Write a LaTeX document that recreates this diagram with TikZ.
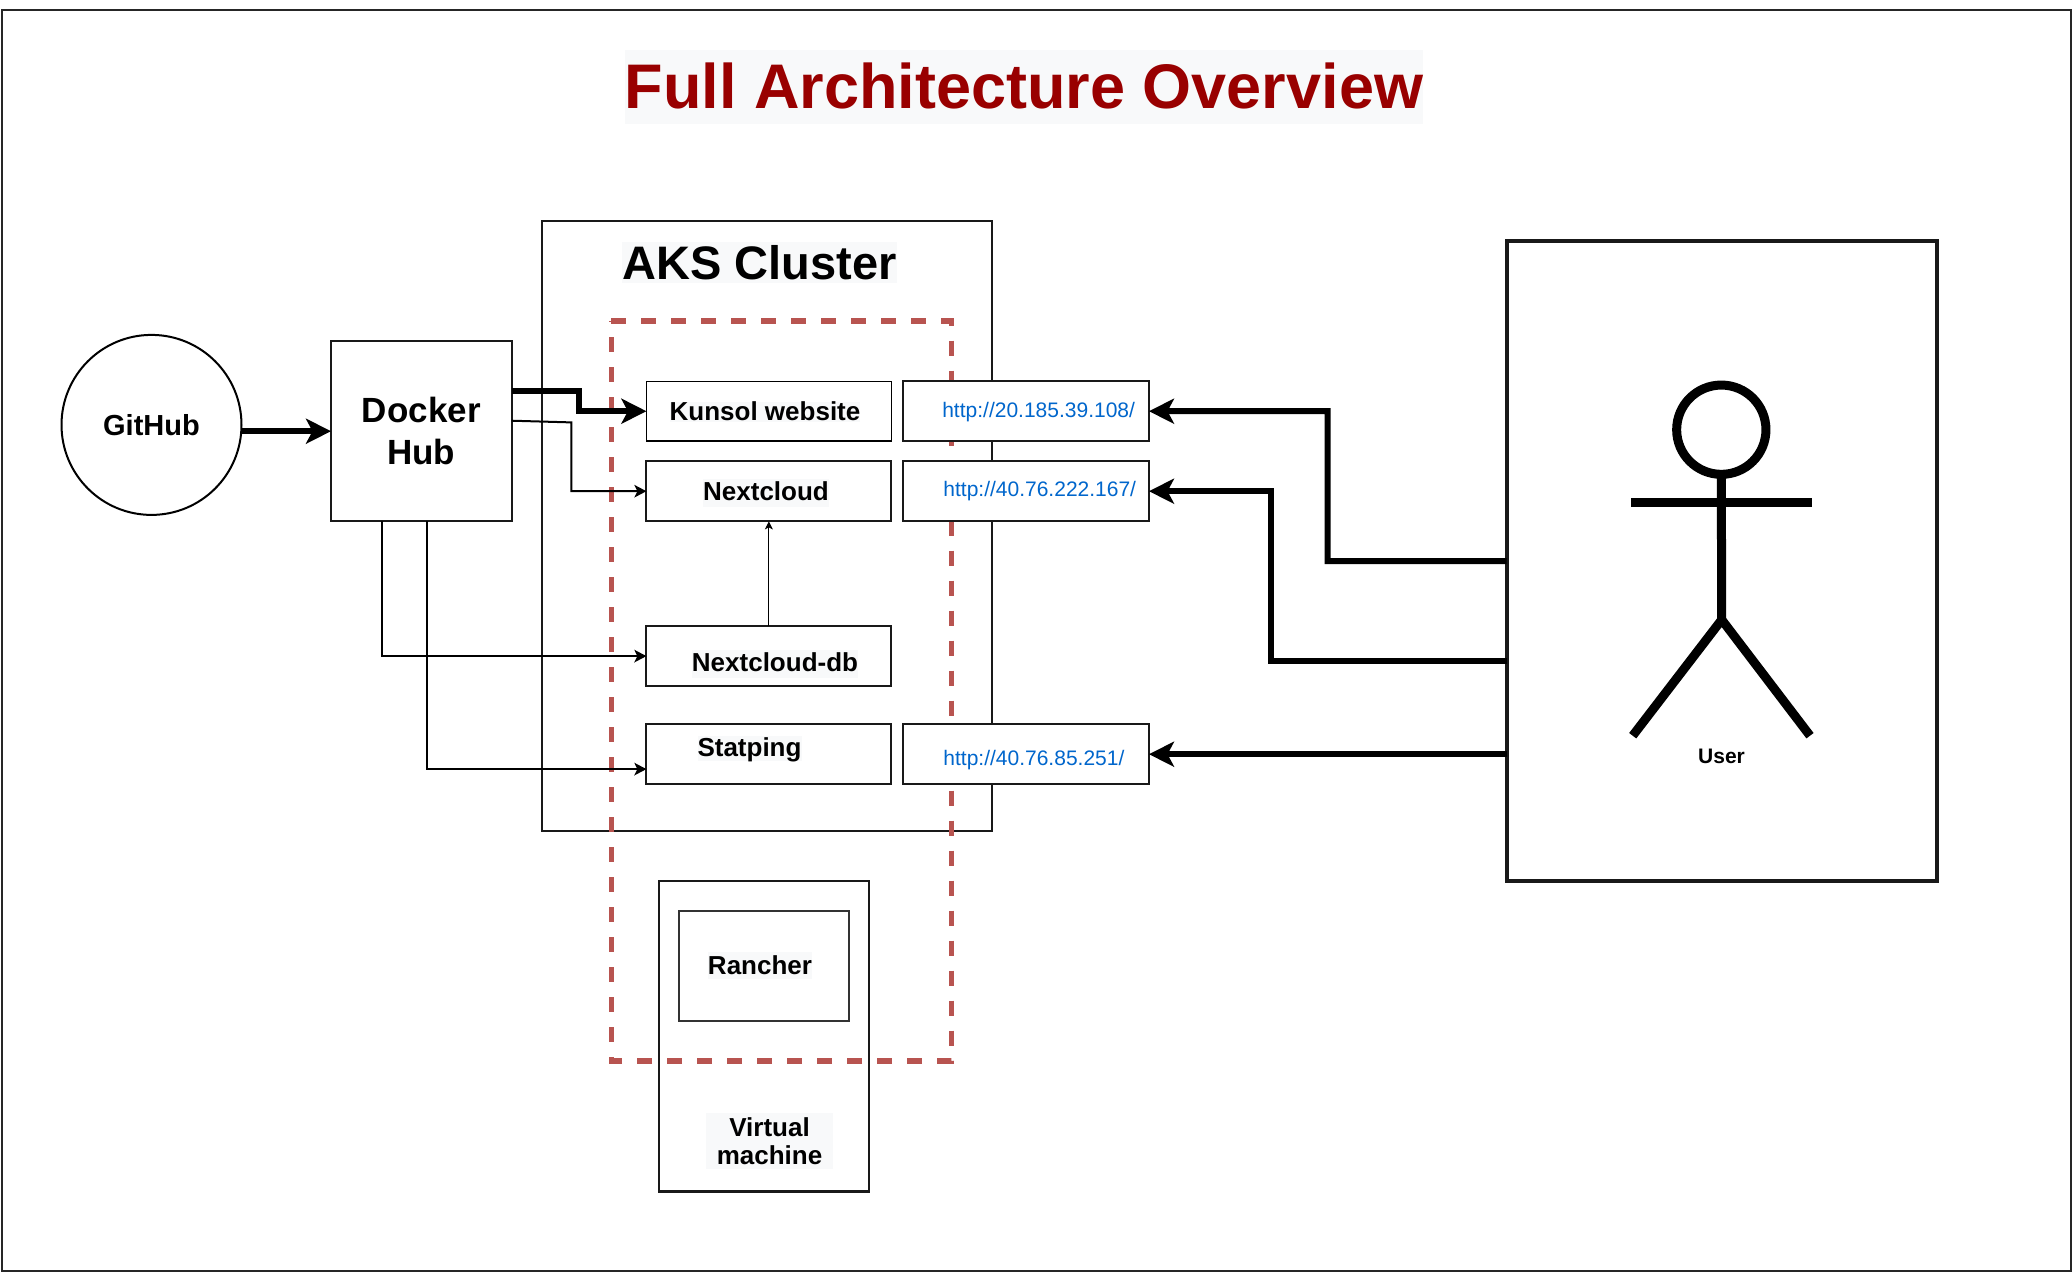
\documentclass[tikz,border=0pt]{standalone}
\usepackage{fontspec}
\setmainfont{Liberation Sans}
\usetikzlibrary{arrows.meta,calc}
\definecolor{titlered}{HTML}{990000}
\definecolor{textbg}{HTML}{F8F9FA}
\definecolor{dashred}{HTML}{B85450}
\definecolor{urlblue}{HTML}{0066CC}
\newcommand{\fsz}[2]{\fontsize{#1}{#2}\selectfont}
\tikzset{
  x=1pt,y=-1pt,
  every node/.style={outer sep=0pt},
  box/.style={draw=black!90,fill=white,line width=2pt,inner sep=0pt,minimum width=#1},
  thinbox/.style={draw=black,fill=white,line width=1.3pt,inner sep=0pt},
  lbl/.style={inner sep=0pt,anchor=base,font=\bfseries\fsz{26}{30}},
  urllbl/.style={inner sep=0pt,anchor=base west,text=urlblue,font=\fsz{21}{25}},
  bigarrow/.style={line width=6pt,-{Stealth[length=25pt,width=25pt,inset=6.5pt]}},
  smallarrow/.style={line width=2pt,-{Stealth[length=12pt,width=12.5pt,inset=3pt]}},
  tinyarrow/.style={line width=1pt,-{Stealth[length=8pt,width=8pt,inset=2pt]}},
  actor/.style={line width=9pt,draw=black},
}
\begin{document}
\begin{tikzpicture}
\useasboundingbox (0,-0.7) rectangle (2072,1271.3);
\fill[white] (0,-0.7) rectangle (2072,1271.3);
% frame
\draw[line width=2pt,draw=black!85] (1.8,9.6) rectangle (2070.5,1269.8);
% title
\node[inner sep=0pt,anchor=base,fill=textbg,text=titlered,font=\bfseries\fsz{63}{70},text height=58.3pt,text depth=15.3pt,minimum width=798pt] (title) at (1024,107.7) {Full Architecture Overview};
% containers
\node[box=450.5pt,minimum height=610.5pt] (aks) at (766.75,525.5) {};
\node[inner sep=0pt,anchor=base,fill=textbg,font=\bfseries\fsz{47}{52},text height=38pt,text depth=3pt] (akslabel) at (759.5,279) {AKS Cluster};
\node[box=210.6pt,line width=2.2pt,minimum height=310.7pt] (vm) at (764,1035.35) {};
% dashed group
\coordinate (d1) at (611.3,320.3);
\coordinate (d2) at (951.7,320.3);
\coordinate (d3) at (951.7,1060.3);
\coordinate (d4) at (611.3,1060.3);
\draw[dashred,line width=5.4pt,dash pattern=on 15pt off 15pt] (d1) -- (d2) -- (d3) -- (d4) -- cycle;
% source nodes
\node[draw=black,fill=white,line width=2pt,circle,inner sep=0pt,minimum size=180pt,font=\bfseries\fsz{29}{32},text height=21pt,text depth=0pt] (github) at (151.5,424.2) {GitHub};
\node[box=180.6pt,minimum height=180.4pt,align=center,font=\bfseries\fsz{35}{42}] (docker) at (421.3,430.5) {Docker\\Hub};
% services
\node[thinbox,minimum width=244.9pt,minimum height=59.7pt] (kunsol) at (768.85,410.5) {};
\node[box=244.9pt,minimum height=60.4pt] (nextcloud) at (768.85,490.5) {};
\node[box=244.9pt,minimum height=60.6pt] (db) at (768.85,655.4) {};
\node[box=244.9pt,minimum height=60.2pt] (statping) at (768.85,753.5) {};
\node[box=246pt,minimum height=59.7pt] (url1) at (1026,410.5) {};
\node[box=246pt,minimum height=60.4pt] (url2) at (1026,490.5) {};
\node[box=246pt,minimum height=60.2pt] (url3) at (1026,753.5) {};
\node[lbl,fill=textbg,text height=18pt,text depth=2pt] (kunsoltext) at (765,419.4) {Kunsol website};
\node[lbl,fill=textbg,text height=21pt,text depth=7pt] (nexttext) at (766,499.7) {Nextcloud};
\node[lbl,fill=textbg,text height=21pt,text depth=7pt] (dbtext) at (775,670.6) {Nextcloud-db};
\node[lbl,fill=textbg,text height=21pt,text depth=4pt] (stattext) at (749.5,756) {Statping};
\node[urllbl] (url1text) at (942.3,416.4) {http://20.185.39.108/};
\node[urllbl] (url2text) at (943.4,495.6) {http://40.76.222.167/};
\node[urllbl] (url3text) at (943.4,765) {http://40.76.85.251/};
% rancher
\node[draw=black!80,fill=white,line width=1.3pt,inner sep=0pt,minimum width=170pt,minimum height=110pt] (rancher) at (764,965.3) {};
\node[lbl,fill=textbg,text height=22pt,text depth=5pt] (ranchertext) at (760,973.6) {Rancher};
\node[inner sep=0pt,fill=textbg,align=center,font=\bfseries\fsz{26}{28.3},minimum width=127pt,minimum height=56pt] (vmtext) at (769.5,1140.7) {Virtual\\machine};
% user
\node[draw=black!90,fill=white,line width=4pt,inner sep=0pt,minimum width=430pt,minimum height=640pt] (user) at (1721.7,560.3) {};
\node[draw=black,line width=9pt,circle,inner sep=0pt,minimum size=89.3pt] (head) at (1721.3,429) {};
\coordinate (hip) at (1721.7,619);
\coordinate (armL) at (1631.3,502);
\coordinate (armR) at (1811.5,502);
\coordinate (footL) at (1632.7,735);
\coordinate (footR) at (1810,735);
\draw[actor] (head.south) -- (hip);
\draw[actor] (armL) -- (armR);
\draw[actor] (footL) -- (hip) -- (footR);
\node[inner sep=0pt,anchor=base,font=\bfseries\fsz{21}{24}] (usertext) at (1721.5,762.4) {User};
% connectors
\draw[bigarrow] (github.east |- docker.west) -- (docker.west);
\draw[bigarrow] ([yshift=-50.4pt]docker.north east) -- (579,390.7) |- (kunsol.west);
\draw[smallarrow] ([yshift=-79.7pt]docker.north east) -- (571.3,421.7) |- (nextcloud.west);
\draw[smallarrow] ([xshift=50.7pt]docker.south west) |- (db.west);
\draw[smallarrow] ([xshift=96pt]docker.south west) |- ([yshift=-14.9pt]statping.west);
\draw[tinyarrow] (db.north) -- (nextcloud.south);
\draw[bigarrow] ([yshift=-320.1pt]user.north west) -- (1327.6,560.4) |- (url1.east);
\draw[bigarrow] ([yshift=-419.7pt]user.north west) -- (1271.4,660) |- (url2.east);
\draw[bigarrow] (user.west |- url3.east) -- (url3.east);
\end{tikzpicture}
\end{document}
